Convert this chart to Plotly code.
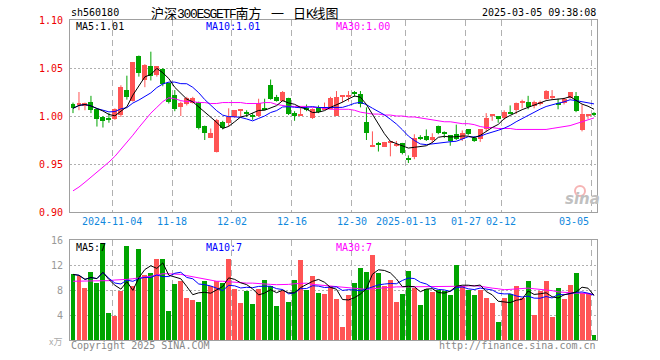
import plotly.graph_objects as go
import pandas as pd

# ---------------- data ----------------
tick_idx = [7, 17, 27, 37, 47, 56, 66, 72, 87]
tick_labels = ["2024-11-04", "11-18", "12-02", "12-16", "12-30",
               "2025-01-13", "01-27", "02-12", "03-05"]

opens = [1.013, 1.011, 1.010, 1.015, 1.007, 0.999, 0.997, 0.997, 1.001, 1.027,
         1.016, 1.062, 1.038, 1.052, 1.043, 1.049, 1.034, 1.022, 1.009, 1.012,
         1.014, 1.015, 0.990, 0.977, 0.963, 0.994, 0.993, 0.999, 1.006, 1.004,
         1.001, 1.000, 1.008, 1.032, 1.020, 1.016, 1.019, 1.003, 1.000, 1.008,
         0.998, 1.008, 1.007, 1.007, 1.000, 1.020, 1.020, 1.024, 1.023, 0.994,
         0.968, 0.971, 0.968, 0.972, 0.969, 0.972, 0.956, 0.957, 0.978, 0.979,
         0.975, 0.990, 0.983, 0.980, 0.981, 0.976, 0.986, 0.977, 0.976, 0.986,
         1.000, 1.000, 0.998, 1.004, 1.006, 1.014, 1.015, 1.010, 1.012, 1.018,
         1.019, 1.013, 1.014, 1.019, 1.021, 0.985, 1.000, 1.003]
closes = [1.008, 1.014, 1.014, 1.006, 0.997, 0.995, 0.996, 1.007, 1.030, 1.020,
          1.056, 1.045, 1.053, 1.042, 1.052, 1.033, 1.015, 1.007, 1.014, 1.019,
          1.019, 0.988, 0.982, 0.982, 0.996, 0.987, 0.999, 1.006, 1.007, 1.003,
          0.999, 1.014, 1.007, 1.018, 1.016, 1.025, 1.002, 1.000, 1.002, 1.007,
          1.007, 1.004, 1.008, 1.019, 1.020, 1.021, 1.021, 1.023, 1.013, 0.982,
          0.970, 0.970, 0.973, 0.973, 0.971, 0.961, 0.955, 0.977, 0.977, 0.975,
          0.978, 0.982, 0.982, 0.974, 0.976, 0.982, 0.981, 0.974, 0.986, 0.998,
          1.001, 0.997, 1.004, 1.003, 1.014, 1.015, 1.009, 1.015, 1.015, 1.026,
          1.020, 1.012, 1.018, 1.025, 1.005, 1.002, 1.001, 1.002]
highs = [1.014, 1.025, 1.014, 1.021, 1.008, 1.000, 1.003, 1.008, 1.032, 1.042,
         1.056, 1.063, 1.054, 1.067, 1.052, 1.050, 1.035, 1.027, 1.015, 1.020,
         1.020, 1.015, 0.990, 0.987, 0.997, 0.995, 1.008, 1.006, 1.007, 1.006,
         1.003, 1.018, 1.018, 1.038, 1.022, 1.026, 1.019, 1.005, 1.008, 1.012,
         1.008, 1.011, 1.014, 1.020, 1.026, 1.021, 1.026, 1.026, 1.026, 1.009,
         0.984, 0.973, 0.973, 0.974, 0.974, 0.972, 0.959, 0.981, 0.980, 0.986,
         0.982, 0.990, 0.984, 0.980, 0.991, 0.985, 0.986, 0.979, 0.986, 1.003,
         1.001, 1.000, 1.006, 1.011, 1.014, 1.017, 1.021, 1.016, 1.016, 1.027,
         1.027, 1.018, 1.019, 1.025, 1.025, 1.012, 1.002, 1.004]
lows = [1.003, 1.006, 1.006, 1.003, 0.989, 0.988, 0.993, 0.996, 0.999, 1.017,
        1.015, 1.041, 1.030, 1.037, 1.041, 1.031, 1.013, 1.005, 1.000, 1.011,
        1.013, 0.986, 0.975, 0.977, 0.962, 0.986, 0.989, 0.998, 0.999, 0.999,
        0.996, 0.999, 1.006, 1.017, 1.015, 1.015, 1.001, 0.995, 1.000, 1.005,
        0.997, 1.003, 1.007, 1.007, 1.000, 1.014, 1.015, 1.020, 1.009, 0.975,
        0.968, 0.963, 0.968, 0.958, 0.968, 0.960, 0.951, 0.955, 0.975, 0.974,
        0.972, 0.981, 0.977, 0.969, 0.975, 0.974, 0.980, 0.973, 0.973, 0.984,
        0.995, 0.993, 0.996, 1.002, 1.002, 1.008, 1.007, 1.008, 1.011, 1.017,
        1.017, 1.007, 1.012, 1.018, 1.004, 0.984, 0.997, 1.000]
volumes = [10.5, 10.2, 8.4, 10.9, 9.1, 15.6, 4.4, 3.8, 7.8, 15.1,
           8.6, 14.5, 10.4, 10.8, 13.0, 13.0, 4.6, 9.0, 9.4, 6.8,
           6.45, 6.1, 9.4, 8.7, 9.4, 9.2, 13.0, 8.2, 6.0, 7.9,
           5.8, 8.2, 9.65, 8.7, 5.5, 7.8, 6.1, 9.65, 12.85, 8.05,
           10.3, 7.6, 7.4, 8.7, 6.6, 2.1, 7.25, 9.2, 11.6, 10.9,
           13.65, 10.8, 8.7, 9.65, 6.1, 7.4, 11.1, 8.4, 5.65, 8.2,
           7.7, 8.05, 7.9, 7.25, 12.05, 8.6, 8.05, 7.25, 8.05, 6.8,
           6.0, 2.9, 6.8, 7.4, 8.7, 6.8, 9.5, 4.05, 7.9, 9.5,
           3.7, 8.4, 6.6, 8.85, 10.8, 7.6, 7.6, 0.85]
ma30_price = [0.922, 0.926, 0.931, 0.936, 0.941, 0.946, 0.952, 0.958, 0.965, 0.972,
              0.980, 0.988, 0.996, 1.003, 1.009, 1.015, 1.019, 1.018, 1.016, 1.015,
              1.015, 1.014, 1.014, 1.013, 1.013, 1.014, 1.014, 1.014, 1.014, 1.013,
              1.013, 1.013, 1.014, 1.014, 1.012, 1.011, 1.010, 1.010, 1.010, 1.010,
              1.009, 1.009, 1.008, 1.007, 1.007, 1.007, 1.007, 1.006, 1.004, 1.003,
              1.002, 1.002, 1.001, 1.001, 1.000, 1.000, 0.999, 0.999, 0.998, 0.997,
              0.996, 0.995, 0.994, 0.994, 0.993, 0.992, 0.992, 0.991, 0.989, 0.988,
              0.988, 0.987, 0.987, 0.987, 0.986, 0.986, 0.986, 0.986, 0.986, 0.986,
              0.987, 0.988, 0.989, 0.990, 0.992, 0.994, 0.996, 0.998]
ma30_vol = [9.4, 9.4, 9.4, 9.4, 9.4, 9.5, 9.5, 9.6, 9.6, 9.7,
            9.8, 9.9, 10.0, 10.2, 10.4, 10.6, 10.6, 10.6, 10.5, 10.3,
            10.1, 9.9, 9.7, 9.5, 9.4, 9.4, 9.3, 9.3, 9.2, 9.1,
            9.1, 9.0, 8.9, 8.9, 8.85, 8.85, 8.9, 9.0, 9.1, 9.1,
            8.9, 8.8, 8.75, 8.7, 8.5, 8.4, 8.3, 8.2, 8.1, 8.1,
            8.2, 8.3, 8.4, 8.5, 8.5, 8.5, 8.5, 8.5, 8.5, 8.5,
            8.5, 8.5, 8.5, 8.55, 8.6, 8.6, 8.65, 8.7, 8.6, 8.4,
            8.3, 8.2, 8.05, 8.1, 8.2, 8.3, 8.3, 8.2, 8.1, 8.05,
            7.9, 7.7, 7.6, 7.5, 7.5, 7.5, 7.4, 7.25]

# ---------------- derived ----------------
n = len(closes)
idx = list(range(n))
RED = "#ff5454"
GREEN = "#00a400"
up = [c >= o for o, c in zip(opens, closes)]
colors = [RED if u else GREEN for u in up]
body_base = [min(o, c) for o, c in zip(opens, closes)]
body_h = [max(abs(c - o), 0.0011) for o, c in zip(opens, closes)]
cs = pd.Series(closes)
ma5 = cs.rolling(5, min_periods=1).mean()
ma10 = cs.rolling(10, min_periods=1).mean()
vs = pd.Series(volumes)
vma5 = vs.rolling(5, min_periods=1).mean()
vma10 = vs.rolling(10, min_periods=1).mean()

def wicks(sel):
    xs, ys = [], []
    for i in idx:
        if sel(i):
            xs += [i, i, None]
            ys += [lows[i], highs[i], None]
    return xs, ys

fig = go.Figure()
for flag, col in [(True, RED), (False, GREEN)]:
    wx, wy = wicks(lambda i: up[i] == flag)
    fig.add_trace(go.Scatter(x=wx, y=wy, mode="lines", line=dict(color=col, width=1),
                             xaxis="x", yaxis="y", hoverinfo="skip"))
fig.add_trace(go.Bar(x=idx, y=body_h, base=body_base, width=0.83,
                     marker=dict(color=colors, line=dict(width=0)),
                     xaxis="x", yaxis="y"))
fig.add_trace(go.Scatter(x=idx, y=ma30_price, mode="lines", line=dict(color="#ff00ff", width=1),
                         xaxis="x", yaxis="y"))
fig.add_trace(go.Scatter(x=idx, y=ma10, mode="lines", line=dict(color="#0000ff", width=1),
                         xaxis="x", yaxis="y"))
fig.add_trace(go.Scatter(x=idx, y=ma5, mode="lines", line=dict(color="#000000", width=1),
                         xaxis="x", yaxis="y"))

fig.add_trace(go.Bar(x=idx, y=volumes, width=0.83,
                     marker=dict(color=colors, line=dict(width=0)),
                     xaxis="x2", yaxis="y2"))
fig.add_trace(go.Scatter(x=idx, y=ma30_vol, mode="lines", line=dict(color="#ff00ff", width=1),
                         xaxis="x2", yaxis="y2"))
fig.add_trace(go.Scatter(x=idx, y=vma10, mode="lines", line=dict(color="#0000ff", width=1),
                         xaxis="x2", yaxis="y2"))
fig.add_trace(go.Scatter(x=idx, y=vma5, mode="lines", line=dict(color="#000000", width=1),
                         xaxis="x2", yaxis="y2"))

MONO = "DejaVu Sans Mono"
CJK = "Noto Sans CJK SC"
grid_x = [t - 0.45 for t in tick_idx]
xcommon = dict(range=[-0.5, n - 0.5], showline=True, mirror=True, linecolor="#a0a0a0",
               linewidth=1, tickvals=grid_x, showticklabels=False, ticks="",
               showgrid=True, gridcolor="#b0b0b0", griddash="6px,4px", gridwidth=1,
               zeroline=False, fixedrange=True)

fig.update_layout(
    width=660, height=360,
    margin=dict(l=70, r=63, t=20, b=20),
    paper_bgcolor="white", plot_bgcolor="white",
    showlegend=False, bargap=0,
    xaxis=dict(domain=[0, 1], anchor="y", **xcommon),
    xaxis2=dict(domain=[0, 1], anchor="y2", **xcommon),
    yaxis=dict(domain=[0.4, 1], range=[0.90, 1.10], tickvals=[0.90, 0.95, 1.00, 1.05, 1.10],
               ticktext=["0.90", "0.95", "1.00", "1.05", "1.10"],
               tickfont=dict(family=MONO, size=10, color="#ee0000"),
               showline=True, mirror=True, linecolor="#a0a0a0", ticks="", ticklabelstandoff=4,
               showgrid=True, gridcolor="#b0b0b0", griddash="2px,2px", zeroline=False,
               fixedrange=True),
    yaxis2=dict(domain=[0, 0.3125], range=[0, 16], tickvals=[4, 8, 12, 16],
                tickfont=dict(family=MONO, size=10, color="#999999"),
                showline=True, mirror=True, linecolor="#a0a0a0", ticks="", ticklabelstandoff=4,
                showgrid=True, gridcolor="#b0b0b0", griddash="2px,2px", zeroline=False,
                fixedrange=True),
)

def px(xp):
    return (xp - 70) / 527.0

def py(yp):
    return (340 - yp) / 320.0

anns = []
def txt(text, x, y, color="#000", size=10, family=MONO, anchor="left"):
    anns.append(dict(text=text, x=px(x), y=py(y), xref="paper", yref="paper",
                     xanchor=anchor, yanchor="middle", showarrow=False,
                     font=dict(family=family, size=size, color=color)))

LAT = "font-family:'Liberation Mono';font-size:13px;letter-spacing:-1.3px"
txt("沪深<span style=\"%s\">300ESGETF</span>南方" % LAT, 149, 13, size=13, family=CJK)
txt("一", 277, 13, size=13, family=CJK, anchor="center")
txt("日<span style=\"%s\">K</span>线图" % LAT, 291, 13, size=13, family=CJK)
txt("sh560180", 69, 13)
txt("2025-03-05 09:38:08", 598, 13, anchor="right")
txt("MA5:1.01", 74, 26)
txt("MA10:1.01", 204, 26, color="#0000ff")
txt("MA30:1.00", 334, 26, color="#ff00ff")
txt("MA5:7", 74, 247)
txt("MA10:7", 204, 247, color="#0000ff")
txt("MA30:7", 334, 247, color="#ff00ff")
txt("x万", 64, 341, color="#aaaaaa", size=9, family=CJK, anchor="right")
txt("Copyright 2025 SINA.COM", 69, 345, color="#888888")
txt("http://finance.sina.com.cn", 598, 345, color="#888888", anchor="right")

for k, (t, lab) in enumerate(zip(tick_idx, tick_labels)):
    last = k == len(tick_idx) - 1
    anns.append(dict(text=lab, x=t - 0.45, y=py(221), xref="x", yref="paper",
                     xanchor="right" if last else "center", yanchor="middle", showarrow=False,
                     font=dict(family=MONO, size=10, color="#1188dd")))

# sina watermark
anns.append(dict(text="<b><i>sina</i></b>", x=px(582), y=py(199), xref="paper", yref="paper",
                 xanchor="center", yanchor="middle", showarrow=False,
                 font=dict(family="DejaVu Sans", size=15, color="#c0c0c0")))
fig.update_layout(annotations=anns)
fig.add_shape(type="circle", xref="paper", yref="paper",
              x0=px(575), x1=px(585), y0=py(196), y1=py(186),
              line=dict(color="#f6b4b4", width=2), fillcolor="rgba(0,0,0,0)")

fig.write_html("out.html", config={"displayModeBar": False},
               post_script="document.body.style.margin='0';")
